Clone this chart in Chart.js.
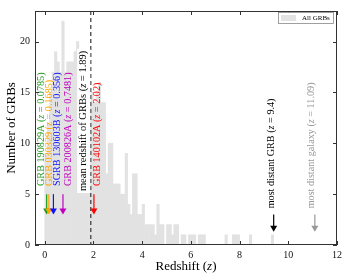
<!DOCTYPE html>
<html>
<head>
<meta charset="utf-8">
<script src="https://cdn.jsdelivr.net/npm/chart.js@4.4.1/dist/chart.umd.min.js"></script>
<style>
  html, body { margin: 0; padding: 0; background: #fff; }
  #wrap { width: 350px; height: 280px; }
</style>
</head>
<body>
<div id="wrap"><canvas id="zChart"></canvas></div>
<script>
// histogram of GRB redshifts, bins of 0.1 starting at z = 0
var binWidth = 0.1;
var counts = [
  9, 12, 15, 17, 19, 18, 17, 22, 17, 18,
  18, 18, 19, 20, 19, 17, 15, 16, 14, 15,
  14, 15, 16, 14, 14, 7, 10, 10, 6, 6,
  6, 5, 5, 9, 4, 3, 7, 7, 3, 3,
  4, 2, 2, 2, 2, 1, 4, 2, 2, 0,
  2, 2, 1, 2, 2, 0, 1, 1, 0, 1,
  1, 1, 0, 1, 1, 1, 0, 0, 0, 0,
  0, 0, 0, 0, 1, 0, 0, 1, 1, 1,
  0, 0, 0, 0, 1, 0, 0, 0, 0, 0,
  0, 0, 0, 1, 0
];
var xTickValues = [0, 2, 4, 6, 8, 10, 12];
var yTickValues = [0, 5, 10, 15, 20];

var meanZ = 1.89;
var markerNames = ['GRB 190829A', 'GRB 030329', 'SGRB 130603B', 'GRB 200826A', 'GRB 140102A', 'most distant GRB', 'most distant galaxy'];
var markerZ = [0.0785, 0.1685, 0.356, 0.7481, 2.02, 9.4, 11.09];
var markerZText = ['0.0785', '0.1685', '0.356', '0.7481', '2.02', '9.4', '11.09'];
var markerColors = ['#229a22', '#ffa500', '#1010ff', '#c000c0', '#ff0000', '#000000', '#999999'];

var serif = '"Liberation Serif", "DejaVu Serif", serif';

var histData = counts.map(function(c, i) {
  return { x: +(i * binWidth + binWidth / 2).toFixed(2), y: c };
});

// text like "NAME (z = value)" with an italic z, drawn rotated upwards
function drawLabel(ctx, px, py, pre, val, color, size, bg) {
  var normal = size + 'px ' + serif;
  var italic = 'italic ' + size + 'px ' + serif;
  var parts = [[pre + ' (', normal], ['z', italic], [' = ' + val + ')', normal]];
  ctx.save();
  ctx.translate(px, py);
  ctx.rotate(-Math.PI / 2);
  ctx.textBaseline = 'middle';
  ctx.textAlign = 'left';
  var total = 0;
  parts.forEach(function(p) { ctx.font = p[1]; total += ctx.measureText(p[0]).width; });
  if (bg) {
    ctx.fillStyle = bg;
    ctx.fillRect(-2, -size * 0.62, total + 4, size * 1.24);
  }
  ctx.fillStyle = color;
  var x = 0;
  parts.forEach(function(p) {
    ctx.font = p[1];
    ctx.fillText(p[0], x, 0);
    x += ctx.measureText(p[0]).width;
  });
  ctx.restore();
}

function drawArrow(ctx, px, y0, y1, color) {
  ctx.save();
  ctx.strokeStyle = color;
  ctx.fillStyle = color;
  ctx.lineWidth = 1.2;
  ctx.beginPath();
  ctx.moveTo(px, y0);
  ctx.lineTo(px, y1 - 5);
  ctx.stroke();
  ctx.beginPath();
  ctx.moveTo(px - 3.5, y1 - 6);
  ctx.lineTo(px + 3.5, y1 - 6);
  ctx.lineTo(px, y1);
  ctx.closePath();
  ctx.fill();
  ctx.restore();
}

var decorPlugin = {
  id: 'decor',
  afterDatasetsDraw: function(chart) {
    var ctx = chart.ctx;
    var xs = chart.scales.x, ys = chart.scales.y;
    var a = chart.chartArea;

    // mean redshift line
    ctx.save();
    ctx.strokeStyle = '#444';
    ctx.lineWidth = 1.3;
    ctx.setLineDash([4, 3]);
    ctx.beginPath();
    ctx.moveTo(xs.getPixelForValue(meanZ), a.top);
    ctx.lineTo(xs.getPixelForValue(meanZ), a.bottom);
    ctx.stroke();
    ctx.restore();
    drawLabel(ctx, xs.getPixelForValue(1.6), ys.getPixelForValue(5.3), 'mean redshift of GRBs', '1.89', '#000', 10.5, '#fff');

    // markers
    var textX = [-0.14, 0.17, 0.51, 0.96, 2.17, 9.29, 10.93];
    for (var i = 0; i < markerZ.length; i++) {
      var far = i >= 5;
      var px = xs.getPixelForValue(markerZ[i]);
      drawArrow(ctx, px, ys.getPixelForValue(far ? 3 : 5), ys.getPixelForValue(far ? 1.3 : 3), markerColors[i]);
      drawLabel(ctx, xs.getPixelForValue(textX[i]), ys.getPixelForValue(far ? 3.6 : 5.8),
        markerNames[i], markerZText[i], markerColors[i], 10.2, null);
    }

    // frame and inward ticks on all sides
    ctx.save();
    ctx.strokeStyle = '#333';
    ctx.lineWidth = 1;
    ctx.strokeRect(a.left + 0.5, a.top + 0.5, a.right - a.left - 1, a.bottom - a.top - 1);
    ctx.beginPath();
    xTickValues.forEach(function(v) {
      var p = Math.round(xs.getPixelForValue(v)) + 0.5;
      ctx.moveTo(p, a.bottom); ctx.lineTo(p, a.bottom - 4);
      ctx.moveTo(p, a.top); ctx.lineTo(p, a.top + 4);
    });
    yTickValues.forEach(function(v) {
      var p = Math.round(ys.getPixelForValue(v)) + 0.5;
      ctx.moveTo(a.left, p); ctx.lineTo(a.left + 4, p);
      ctx.moveTo(a.right, p); ctx.lineTo(a.right - 4, p);
    });
    ctx.stroke();

    // legend
    ctx.fillStyle = '#fff';
    ctx.fillRect(278, 12.5, 55, 11);
    ctx.strokeStyle = '#888';
    ctx.lineWidth = 0.8;
    ctx.strokeRect(278.5, 12.5, 55, 11);
    ctx.fillStyle = '#e2e2e2';
    ctx.fillRect(281, 15, 15, 6);
    ctx.fillStyle = '#000';
    ctx.font = '7px ' + serif;
    ctx.textBaseline = 'middle';
    ctx.textAlign = 'left';
    ctx.fillText('All GRBs', 302, 18.5);

    // x axis title with italic z
    var t1 = 'Redshift (', t2 = 'z', t3 = ')';
    var nf = '13px ' + serif, itf = 'italic 13px ' + serif;
    ctx.font = nf; var w1 = ctx.measureText(t1).width, w3 = ctx.measureText(t3).width;
    ctx.font = itf; var w2 = ctx.measureText(t2).width;
    var x0 = (a.left + a.right) / 2 - (w1 + w2 + w3) / 2;
    var ty = 267;
    ctx.font = nf; ctx.fillText(t1, x0, ty);
    ctx.font = itf; ctx.fillText(t2, x0 + w1, ty);
    ctx.font = nf; ctx.fillText(t3, x0 + w1 + w2, ty);
    ctx.restore();
  }
};

var ctx = document.getElementById('zChart').getContext('2d');
var chart = new Chart(ctx, {
  type: 'bar',
  data: {
    datasets: [{
      label: 'All GRBs',
      data: histData,
      backgroundColor: '#e2e2e2',
      borderWidth: 0,
      barPercentage: 1,
      categoryPercentage: 1
    }]
  },
  options: {
    responsive: true,
    maintainAspectRatio: false,
    animation: false,
    layout: { padding: { top: 8, right: 13, left: 0, bottom: 0 } },
    plugins: {
      legend: { display: false },
      tooltip: { enabled: false }
    },
    scales: {
      x: {
        type: 'linear',
        min: -0.4,
        max: 12,
        offset: false,
        grid: { display: false, drawTicks: false },
        border: { display: false },
        afterBuildTicks: function(s) { s.ticks = xTickValues.map(function(v) { return { value: v }; }); },
        afterFit: function(s) { s.height = 35; },
        ticks: { color: '#111', font: { family: serif, size: 10 }, padding: 4, maxRotation: 0 }
      },
      y: {
        min: 0,
        max: 23,
        grid: { display: false, drawTicks: false },
        border: { display: false },
        afterBuildTicks: function(s) { s.ticks = yTickValues.map(function(v) { return { value: v }; }); },
        afterFit: function(s) { s.width = 35; },
        ticks: { color: '#111', font: { family: serif, size: 10 }, padding: 5 },
        title: { display: true, text: 'Number of GRBs', color: '#000', font: { family: serif, size: 13 }, padding: { top: 4, bottom: 0 } }
      }
    }
  },
  plugins: [decorPlugin]
});
</script>
</body>
</html>
